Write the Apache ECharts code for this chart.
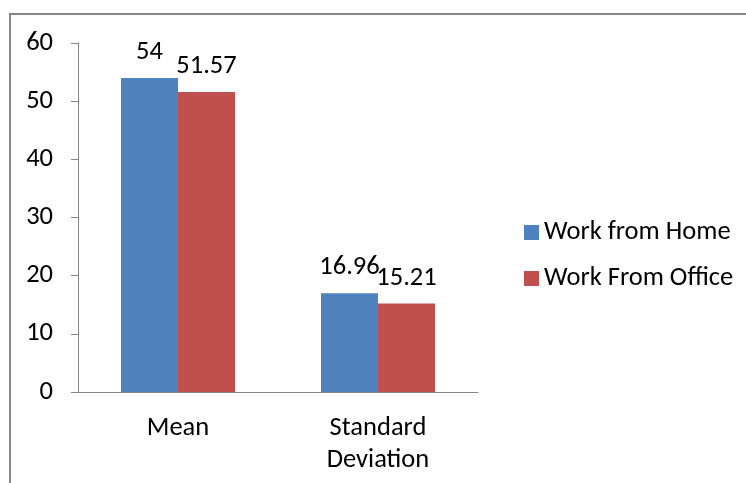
<!DOCTYPE html>
<html>
<head>
<meta charset="utf-8">
<script src="https://cdn.jsdelivr.net/npm/echarts@6/dist/echarts.min.js"></script>
<style>
  html, body { margin: 0; padding: 0; background: #fff; }
  #frame { position: absolute; left: 9px; top: 13px; width: 760px; height: 500px;
           border-top: 2px solid #878787; border-left: 2px solid #878787; }
  #chart { position: absolute; left: 0; top: 0; width: 746px; height: 483px; }
</style>
</head>
<body>
<div id="frame"></div>
<div id="chart"></div>
<script>
const categories = ["Mean", "Standard\nDeviation"];
const homeValues = [54, 16.96];
const officeValues = [51.57, 15.21];
const seriesNames = ["Work from Home", "Work From Office"];

const font = "Carlito, 'Open Sans', sans-serif";
const size = 26.5;

const chart = echarts.init(document.getElementById("chart"));
chart.setOption({
  animation: false,
  textStyle: { fontFamily: font },
  grid: { left: 78, right: 268, top: 43, bottom: 91, containLabel: false },
  legend: {
    orient: "vertical",
    left: 519,
    top: 214,
    itemWidth: 15,
    itemHeight: 15,
    itemGap: 19,
    icon: "rect",
    textStyle: { fontSize: size, color: "#000", fontFamily: font },
    data: seriesNames,
  },
  xAxis: {
    type: "category",
    data: categories,
    axisLine: { lineStyle: { color: "#868686" } },
    axisTick: { length: 8, lineStyle: { color: "#868686" } },
    axisLabel: { color: "#000", fontSize: size, margin: 20, lineHeight: 32, fontFamily: font },
  },
  yAxis: {
    type: "value",
    min: 0,
    max: 60,
    interval: 10,
    splitLine: { show: false },
    axisLine: { show: true, lineStyle: { color: "#868686" } },
    axisTick: { show: true, length: 7, lineStyle: { color: "#868686" } },
    axisLabel: { color: "#000", fontSize: size, margin: 25, fontFamily: font },
  },
  series: [
    {
      name: seriesNames[0],
      type: "bar",
      data: homeValues,
      barGap: "0%",
      barCategoryGap: "43%",
      itemStyle: { color: "#4F81BD" },
      label: { show: true, position: "top", distance: 12, color: "#000", fontSize: size, fontFamily: font },
    },
    {
      name: seriesNames[1],
      type: "bar",
      data: officeValues,
      barGap: "0%",
      barCategoryGap: "43%",
      itemStyle: { color: "#C0504D" },
      label: { show: true, position: "top", distance: 12, color: "#000", fontSize: size, fontFamily: font },
    },
  ],
});
</script>
</body>
</html>
